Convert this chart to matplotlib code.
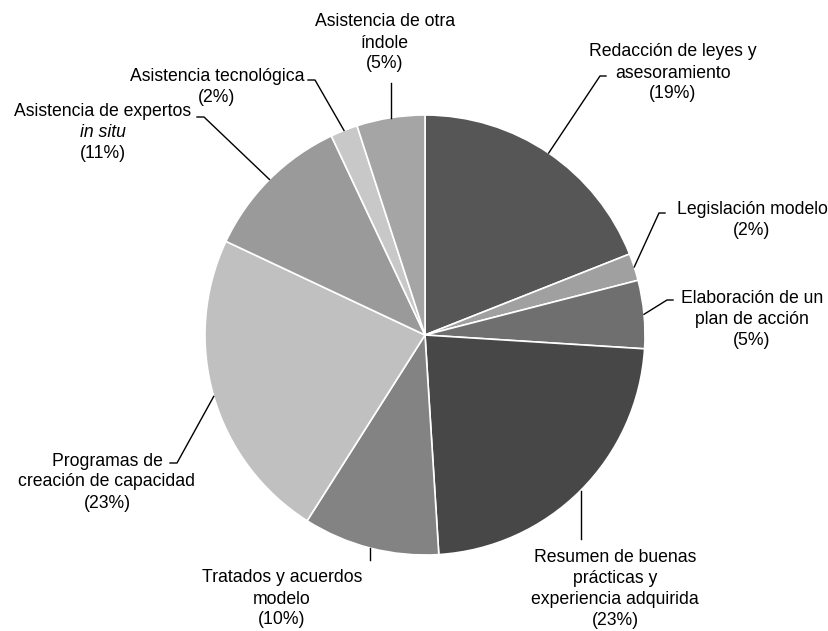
import matplotlib
matplotlib.use("Agg")
import matplotlib.pyplot as plt
import numpy as np

W, H = 829, 631

categories = [
    "Redacción de leyes y asesoramiento",
    "Legislación modelo",
    "Elaboración de un plan de acción",
    "Resumen de buenas prácticas y experiencia adquirida",
    "Tratados y acuerdos modelo",
    "Programas de creación de capacidad",
    "Asistencia de expertos in situ",
    "Asistencia tecnológica",
    "Asistencia de otra índole",
]
values = [19, 2, 5, 23, 10, 23, 11, 2, 5]
label_lines = [
    ["Redacción de leyes y", "asesoramiento", "(19%)"],
    ["Legislación modelo", "(2%)"],
    ["Elaboración de un", "plan de acción", "(5%)"],
    ["Resumen de buenas", "prácticas y", "experiencia adquirida", "(23%)"],
    ["Tratados y acuerdos", "modelo", "(10%)"],
    ["Programas de", "creación de capacidad", "(23%)"],
    ["Asistencia de expertos", "in situ", "(11%)"],
    ["Asistencia tecnológica", "(2%)"],
    ["Asistencia de otra", "índole", "(5%)"],
]
italic_lines = {("Asistencia de expertos in situ", 1)}
colors = ["#565656", "#a0a0a0", "#6f6f6f", "#474747", "#838383",
          "#c0c0c0", "#9a9a9a", "#c8c8c8", "#a5a5a5"]

# layout in pixel coords (y measured from the top)
center = (425, 335)
radius = 220
text_pos = [(673, 73), (752, 220), (752, 320), (615, 589), (282, 599),
            (107, 482), (103, 133), (217, 87), (385, 43)]
leader_pts = [
    [(600, 76), (606, 76)],
    [(659, 213), (665, 213)],
    [(667, 300), (673, 300)],
    [None, (0, 539)],
    [None, (0, 560)],
    [(177, 463), (170, 463)],
    [(204, 117), (197, 117)],
    [(315, 80), (308, 80)],
    [None, (0, 83)],
]
line_step = 21


def fy(y):
    return H - y


plt.rcParams["font.family"] = ["Liberation Sans", "DejaVu Sans"]
fig = plt.figure(figsize=(W / 100, H / 100), dpi=100)
ax = fig.add_axes([0, 0, 1, 1])

wedges, _ = ax.pie(values, colors=colors, startangle=90, counterclock=False,
                   center=(center[0], fy(center[1])), radius=radius,
                   wedgeprops=dict(edgecolor="white", linewidth=1.2))
ax.set_xlim(0, W)
ax.set_ylim(0, H)
ax.set_aspect("equal")
ax.axis("off")

for i, w in enumerate(wedges):
    mid = np.deg2rad((w.theta1 + w.theta2) / 2)
    ax_x = w.center[0] + w.r * np.cos(mid)
    ax_y = w.center[1] + w.r * np.sin(mid)
    xs, ys = [ax_x], [ax_y]
    for p in leader_pts[i]:
        if p is None:
            continue
        if p[0] == 0:
            xs.append(ax_x)
        else:
            xs.append(p[0])
        ys.append(fy(p[1]))
    ax.plot(xs, ys, color="black", linewidth=1)

    cx, cy = text_pos[i]
    lines = label_lines[i]
    n = len(lines)
    for j, line in enumerate(lines):
        yy = cy + (j - (n - 1) / 2) * line_step
        style = "italic" if (categories[i], j) in italic_lines else "normal"
        ax.text(cx, fy(yy), line, ha="center", va="center", fontsize=12.7,
                style=style, color="black")

fig.savefig("out.png", dpi=100)
